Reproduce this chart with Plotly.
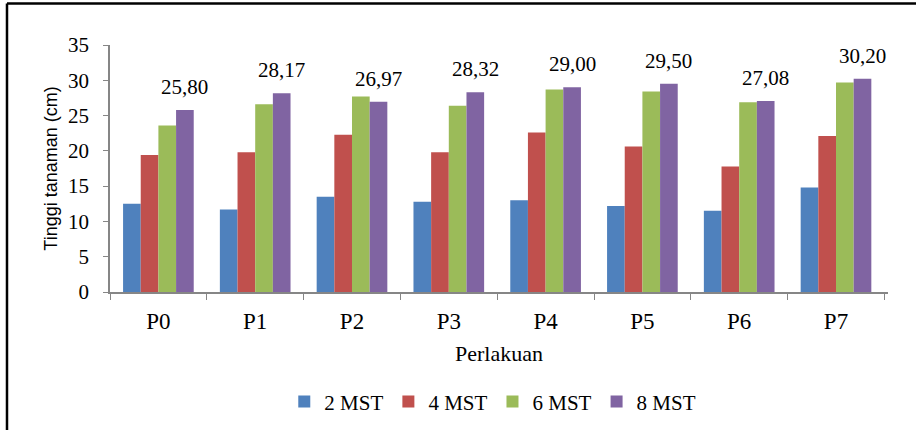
import plotly.graph_objects as go

categories = ["P0", "P1", "P2", "P3", "P4", "P5", "P6", "P7"]
series_names = ["2 MST", "4 MST", "6 MST", "8 MST"]
mst2 = [12.5, 11.7, 13.5, 12.8, 13.0, 12.2, 11.5, 14.8]
mst4 = [19.4, 19.8, 22.3, 19.8, 22.6, 20.6, 17.8, 22.1]
mst6 = [23.6, 26.6, 27.7, 26.4, 28.7, 28.4, 26.9, 29.7]
mst8 = [25.80, 28.17, 26.97, 28.32, 29.00, 29.50, 27.08, 30.20]
colors = ["#4F81BD", "#C0504D", "#9BBB59", "#8064A2"]
y_ticks = [0, 5, 10, 15, 20, 25, 30, 35]

serif = "Liberation Serif"
sans = "Liberation Sans"

fig = go.Figure()
for name, vals, col in zip(series_names, [mst2, mst4, mst6, mst8], colors):
    fig.add_trace(go.Bar(
        x=categories, y=vals, name=name,
        marker=dict(color=col, line=dict(width=0)),
    ))

bargap = 0.27
bar_w = (1 - bargap) / 4
offset = 1.5 * bar_w
annotations = []
for i, v in enumerate(mst8):
    annotations.append(dict(
        x=i + offset, y=v, xref="x", yref="y",
        text=f"{v:.2f}".replace(".", ","),
        showarrow=False, yanchor="bottom", yshift=9,
        font=dict(family=serif, size=21, color="#000000"),
    ))

fig.update_layout(
    width=916, height=430,
    margin=dict(l=110, r=28, t=45, b=138, autoexpand=False),
    paper_bgcolor="white", plot_bgcolor="white",
    barmode="group", bargap=bargap, bargroupgap=0,
    separators=",.",
    showlegend=True,
    font=dict(family=serif),
    legend=dict(
        orientation="h", x=0.492, xanchor="center", y=-0.445, yanchor="middle",
        font=dict(family=serif, size=21, color="#000000"),
        traceorder="normal",
    ),
    annotations=annotations,
    xaxis=dict(
        type="category", automargin=False,
        showline=True, linecolor="#868686", linewidth=1.5,
        ticks="outside", tickson="boundaries", ticklen=6, tickcolor="#868686",
        tickfont=dict(family=serif, size=23, color="#000000"),
        ticklabelstandoff=8,
        showgrid=False,
        title=dict(text="Perlakuan", font=dict(family=serif, size=22, color="#000000"), standoff=12),
    ),
    yaxis=dict(
        range=[0, 35], tickvals=y_ticks, automargin=False,
        showline=True, linecolor="#868686", linewidth=1.5,
        ticks="outside", ticklen=5, tickcolor="#868686",
        tickfont=dict(family=serif, size=21, color="#000000"),
        showgrid=False, zeroline=False,
        ticklabelstandoff=10,
        title=dict(text="Tinggi tanaman (cm)", font=dict(family=sans, size=18, color="#000000"), standoff=6),
    ),
    shapes=[
        dict(type="line", xref="paper", yref="paper", x0=-0.1324, x1=1.0578, y0=1.168, y1=1.168,
             line=dict(color="#000000", width=2.5)),
        dict(type="line", xref="paper", yref="paper", x0=-0.1324, x1=-0.1324, y0=1.168, y1=-0.57,
             line=dict(color="#000000", width=2.5)),
    ],
)

fig.write_html("out.html", config={"displayModeBar": False},
               post_script="document.body.style.margin='0px';")
